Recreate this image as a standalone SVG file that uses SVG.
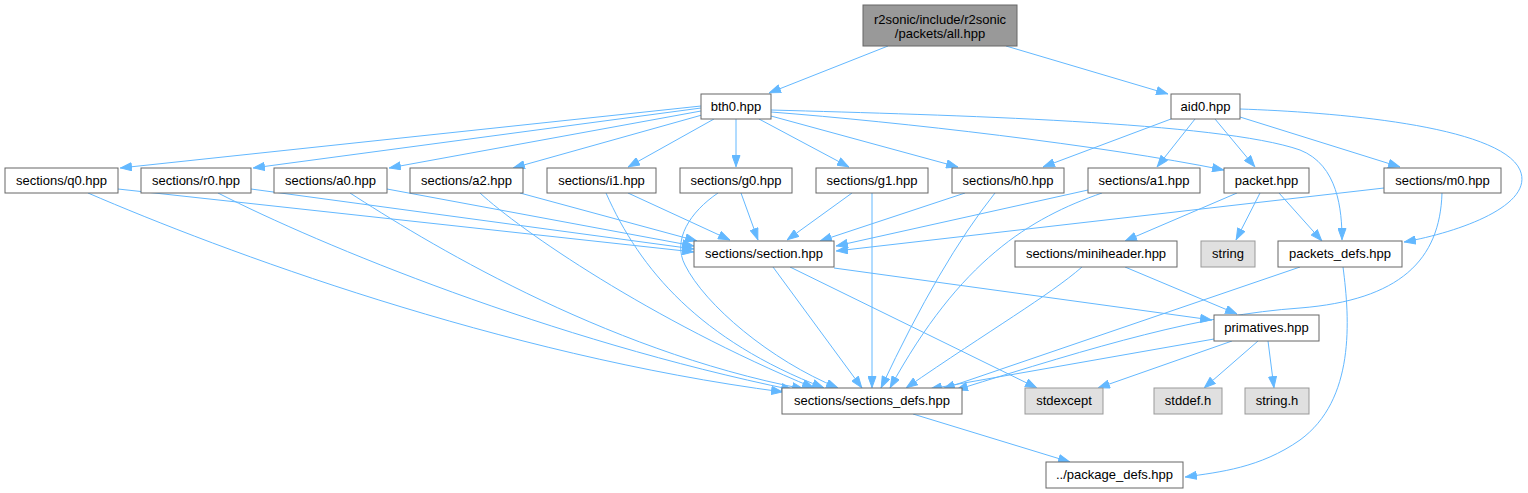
<svg xmlns="http://www.w3.org/2000/svg" width="1528" height="493" viewBox="0 0 1528 493">
<style>
.n rect{fill:#ffffff;stroke:#666666;stroke-width:1}
.root rect{fill:#999999;stroke:#666666}
.sys rect{fill:#e0e0e0;stroke:#999999}
text{font-family:"Liberation Sans",Arial,Helvetica,sans-serif;font-size:13px;fill:#000000;text-anchor:middle}
.e path{fill:none;stroke:#63b8ff;stroke-width:1;marker-end:url(#ah)}
</style>
<defs>
<marker id="ah" viewBox="0 0 12 9" refX="12" refY="4.5" markerWidth="12" markerHeight="9" markerUnits="userSpaceOnUse" orient="auto">
<path d="M0.5,0.5 L11.5,4.5 L0.5,8.5 z" fill="#63b8ff" stroke="#63b8ff" stroke-width="1"/>
</marker>
</defs>
<rect width="1528" height="493" fill="#ffffff"/>
<g class="e" id="edges">
<path d="M888,46 L769,93"/>
<path d="M1006,46 L1168,94"/>
<path d="M701,106 L120,168"/>
<path d="M701,108 L253,168"/>
<path d="M701,111 L389,168"/>
<path d="M702,115 L513,168"/>
<path d="M714,119 L628,167"/>
<path d="M736,119 L736,167"/>
<path d="M759,119 L849,167"/>
<path d="M771,116 L958,167"/>
<path d="M771,112 C 900,122 1100,145 1224,170"/>
<path d="M771,110 C 950,115 1220,122 1300,150 C 1338,165 1342,210 1342,240"/>
<path d="M1171,119 L1043,167"/>
<path d="M1195,119 L1157,167"/>
<path d="M1215,119 L1255,167"/>
<path d="M1240,117 L1400,167"/>
<path d="M1240,109 C 1330,112 1500,125 1520,170 C 1535,205 1460,232 1404,242"/>
<path d="M118,189 L694,252"/>
<path d="M251,189 L694,249"/>
<path d="M387,189 L694,246"/>
<path d="M520,193 L697,241"/>
<path d="M628,193 L730,240"/>
<path d="M741,193 L758,240"/>
<path d="M852,193 L787,240"/>
<path d="M965,193 L820,241"/>
<path d="M1088,190 L836,246"/>
<path d="M1384,188 L836,251"/>
<path d="M88,193 C 220,250 500,355 783,392"/>
<path d="M218,193 C 320,245 550,340 793,390"/>
<path d="M350,193 C 420,238 600,350 804,389"/>
<path d="M480,193 C 520,230 650,320 814,388"/>
<path d="M606,193 C 640,270 700,340 824,388"/>
<path d="M718,193 C 690,212 672,240 685,265 C 705,305 770,360 838,388"/>
<path d="M773,267 L862,388"/>
<path d="M872,193 L872,388"/>
<path d="M995,193 Q 940,262 881,388"/>
<path d="M1102,193 C 1030,218 960,260 890,388"/>
<path d="M1082,267 C 1050,295 990,330 906,388"/>
<path d="M1442,193 C 1440,260 1400,300 1300,308 C 1200,315 1100,345 956,390"/>
<path d="M1300,267 L943,389"/>
<path d="M1214,339 L930,389"/>
<path d="M790,267 L1037,388"/>
<path d="M834,268 L1212,320"/>
<path d="M1125,267 L1237,314"/>
<path d="M1237,193 L1125,241"/>
<path d="M1260,193 L1236,240"/>
<path d="M1279,193 L1322,241"/>
<path d="M1343,267 C 1350,320 1355,400 1300,440 C 1260,468 1220,472 1185,477"/>
<path d="M913,414 L1070,462"/>
<path d="M1232,341 L1098,388"/>
<path d="M1258,341 L1204,388"/>
<path d="M1268,341 L1274,388"/>
</g>
<g class="n root" id="node_all"><rect x="863" y="5" width="154" height="41"/><text x="940" y="24">r2sonic/include/r2sonic</text><text x="940" y="38">/packets/all.hpp</text></g>
<g class="n" id="node_bth0"><rect x="701" y="94" width="70" height="25"/><text x="736" y="111">bth0.hpp</text></g>
<g class="n" id="node_aid0"><rect x="1171" y="94" width="69" height="25"/><text x="1205.5" y="111">aid0.hpp</text></g>
<g class="n" id="node_q0"><rect x="5" y="168" width="113" height="25"/><text x="61.5" y="185">sections/q0.hpp</text></g>
<g class="n" id="node_r0"><rect x="141" y="168" width="110" height="25"/><text x="196" y="185">sections/r0.hpp</text></g>
<g class="n" id="node_a0"><rect x="274" y="168" width="113" height="25"/><text x="330.5" y="185">sections/a0.hpp</text></g>
<g class="n" id="node_a2"><rect x="410" y="168" width="113" height="25"/><text x="466.5" y="185">sections/a2.hpp</text></g>
<g class="n" id="node_i1"><rect x="547" y="168" width="109" height="25"/><text x="601.5" y="185">sections/i1.hpp</text></g>
<g class="n" id="node_g0"><rect x="680" y="168" width="112" height="25"/><text x="736" y="185">sections/g0.hpp</text></g>
<g class="n" id="node_g1"><rect x="816" y="168" width="112" height="25"/><text x="872" y="185">sections/g1.hpp</text></g>
<g class="n" id="node_h0"><rect x="952" y="168" width="112" height="25"/><text x="1008" y="185">sections/h0.hpp</text></g>
<g class="n" id="node_a1"><rect x="1088" y="168" width="112" height="25"/><text x="1144" y="185">sections/a1.hpp</text></g>
<g class="n" id="node_packet"><rect x="1224" y="168" width="85" height="25"/><text x="1266.5" y="185">packet.hpp</text></g>
<g class="n" id="node_m0"><rect x="1384" y="168" width="117" height="25"/><text x="1442.5" y="185">sections/m0.hpp</text></g>
<g class="n" id="node_section"><rect x="694" y="241" width="140" height="26"/><text x="764" y="258">sections/section.hpp</text></g>
<g class="n" id="node_miniheader"><rect x="1015" y="241" width="162" height="26"/><text x="1096" y="258">sections/miniheader.hpp</text></g>
<g class="n sys" id="node_string"><rect x="1201" y="241" width="54" height="26"/><text x="1228" y="258">string</text></g>
<g class="n" id="node_packets_defs"><rect x="1278" y="241" width="124" height="26"/><text x="1340" y="258">packets_defs.hpp</text></g>
<g class="n" id="node_primatives"><rect x="1214" y="315" width="105" height="26"/><text x="1266.5" y="332">primatives.hpp</text></g>
<g class="n" id="node_sections_defs"><rect x="782" y="388" width="180" height="26"/><text x="872" y="405">sections/sections_defs.hpp</text></g>
<g class="n sys" id="node_stdexcept"><rect x="1025" y="388" width="78" height="26"/><text x="1064" y="405">stdexcept</text></g>
<g class="n sys" id="node_stddef"><rect x="1154" y="388" width="68" height="26"/><text x="1188" y="405">stddef.h</text></g>
<g class="n sys" id="node_stringh"><rect x="1245" y="388" width="64" height="26"/><text x="1277" y="405">string.h</text></g>
<g class="n" id="node_package_defs"><rect x="1046" y="462" width="137" height="26"/><text x="1114.5" y="479">../package_defs.hpp</text></g>
</svg>
